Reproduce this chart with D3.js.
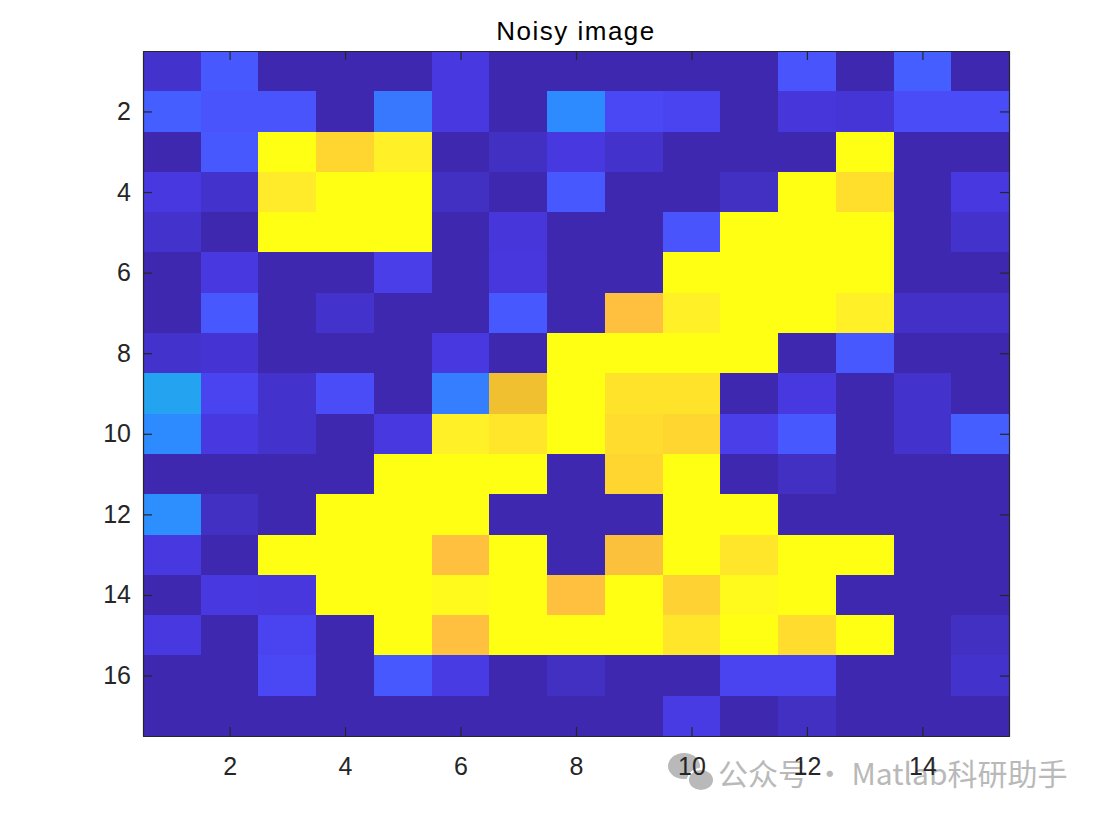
<!DOCTYPE html>
<html>
<head>
<meta charset="utf-8">
<script src="https://cdn.jsdelivr.net/npm/d3@7"></script>
<style>
  body { margin: 0; background: #fff; }
  text { font-family: "Liberation Sans", Arial, Helvetica, sans-serif; }
</style>
</head>
<body>
<script>
// image values, one array per row (row 1 at the top)
var row1  = [0.05, 0.15, 0, 0, 0, 0.08, 0, 0, 0, 0, 0, 0.14, 0, 0.16, 0];
var row2  = [0.16, 0.14, 0.14, 0, 0.2, 0.08, 0, 0.23, 0.11, 0.10, 0, 0.07, 0.065, 0.12, 0.12];
var row3  = [0, 0.15, 1, 0.88, 0.97, 0, 0.03, 0.08, 0.05, 0, 0, 0, 1, 0, 0];
var row4  = [0.08, 0.05, 0.95, 1, 1, 0.03, 0, 0.15, 0, 0, 0.03, 1, 0.91, 0, 0.08];
var row5  = [0.05, 0, 1, 1, 1, 0, 0.07, 0, 0, 0.14, 1, 1, 1, 0, 0.05];
var row6  = [0, 0.08, 0, 0, 0.09, 0, 0.075, 0, 0, 1, 1, 1, 1, 0, 0];
var row7  = [0, 0.15, 0, 0.05, 0, 0, 0.15, 0, 0.82, 0.97, 1, 1, 0.97, 0.04, 0.04];
var row8  = [0.05, 0.06, 0, 0, 0, 0.08, 0, 1, 1, 1, 1, 0, 0.15, 0, 0];
var row9  = [0.3, 0.10, 0.05, 0.12, 0, 0.21, 0.78, 1, 0.92, 0.92, 0, 0.08, 0, 0.05, 0];
var row10 = [0.23, 0.08, 0.05, 0, 0.08, 0.97, 0.93, 1, 0.90, 0.88, 0.09, 0.15, 0, 0.05, 0.16];
var row11 = [0, 0, 0, 0, 1, 1, 1, 0, 0.88, 1, 0, 0.03, 0, 0, 0];
var row12 = [0.24, 0.03, 0, 1, 1, 1, 0, 0, 0, 1, 1, 0, 0, 0, 0];
var row13 = [0.08, 0, 1, 1, 1, 0.82, 1, 0, 0.81, 1, 0.93, 1, 1, 0, 0];
var row14 = [0, 0.08, 0.075, 1, 1, 0.99, 1, 0.82, 1, 0.87, 0.99, 1, 0, 0, 0];
var row15 = [0.08, 0, 0.10, 0, 1, 0.82, 1, 1, 1, 0.93, 1, 0.90, 1, 0, 0.03];
var row16 = [0, 0, 0.11, 0, 0.15, 0.085, 0, 0.03, 0, 0, 0.10, 0.10, 0, 0, 0.05];
var row17 = [0, 0, 0, 0, 0, 0, 0, 0, 0, 0.085, 0, 0.03, 0, 0, 0];

var rows = [row1, row2, row3, row4, row5, row6, row7, row8, row9,
            row10, row11, row12, row13, row14, row15, row16, row17];

var xTicks = [2, 4, 6, 8, 10, 12, 14];
var yTicks = [2, 4, 6, 8, 10, 12, 14, 16];

var titleText = "Noisy image";
var watermark = "公众号 · Matlab科研助手";

// flatten into cells
var cells = [];
rows.forEach(function(r, i) {
  r.forEach(function(v, j) {
    cells.push({row: i + 1, col: j + 1, value: v});
  });
});

var fullwidth = 1104, fullheight = 817;
var axLeft = 143, axRight = 1009, axTop = 51, axBottom = 736;

var x = d3.scaleLinear().domain([0.5, 15.5]).range([axLeft, axRight]);
var y = d3.scaleLinear().domain([0.5, 17.5]).range([axTop, axBottom]);

// parula-like colour map
var color = d3.scaleLinear()
  .domain([0, 0.03, 0.05, 0.08, 0.10, 0.12, 0.15, 0.20, 0.23, 0.30, 0.50, 0.65, 0.78, 0.82, 0.88, 0.93, 0.97, 1])
  .range(["#3f28b0", "#4230c2", "#4432cc", "#4838e0", "#4a44f0", "#4a4cf8", "#4858ff", "#3878ff",
          "#2e8aff", "#24a3f0", "#2fbf9f", "#b8bd45", "#f0c030", "#ffc040", "#ffd530", "#ffe62a",
          "#fff028", "#ffff14"])
  .clamp(true);

var svg = d3.select("body").append("svg")
  .attr("width", fullwidth)
  .attr("height", fullheight);

// watermark sits under the tick labels
var wm = svg.append("g").attr("opacity", 0.8);
wm.append("ellipse").attr("cx", 684).attr("cy", 766).attr("rx", 16).attr("ry", 13).attr("fill", "#a8a8a8");
wm.append("ellipse").attr("cx", 701).attr("cy", 780).attr("rx", 13).attr("ry", 11).attr("fill", "#a8a8a8")
  .attr("stroke", "#fff").attr("stroke-width", 2);
wm.append("text")
  .attr("x", 718).attr("y", 785)
  .style("font-family", "'Noto Sans CJK SC', 'Noto Sans', sans-serif")
  .style("font-size", "30px")
  .attr("fill", "#a8a8a8")
  .text(watermark);

// image cells
svg.append("g")
  .attr("shape-rendering", "crispEdges")
  .selectAll("rect")
  .data(cells)
  .enter().append("rect")
    .attr("x", function(d) { return x(d.col - 0.5); })
    .attr("y", function(d) { return y(d.row - 0.5); })
    .attr("width", function(d) { return x(d.col + 0.5) - x(d.col - 0.5) + 0.6; })
    .attr("height", function(d) { return y(d.row + 0.5) - y(d.row - 0.5) + 0.6; })
    .attr("fill", function(d) { return color(d.value); });

function styleAxis(g) {
  g.selectAll("path").attr("stroke", "#262626").attr("stroke-width", 1.2);
  g.selectAll("line").attr("stroke", "#262626").attr("stroke-width", 1.2);
  g.selectAll("text").attr("fill", "#262626").style("font-size", "25px")
    .style("font-family", "'Liberation Sans', Arial, Helvetica, sans-serif");
}

// bottom axis
svg.append("g")
  .attr("transform", "translate(0," + axBottom + ")")
  .call(d3.axisBottom(x).tickValues(xTicks).tickSizeInner(-9).tickSizeOuter(0).tickPadding(21))
  .call(styleAxis);

// top axis (ticks only)
svg.append("g")
  .attr("transform", "translate(0," + axTop + ")")
  .call(d3.axisTop(x).tickValues(xTicks).tickSizeInner(-9).tickSizeOuter(0).tickFormat(""))
  .call(styleAxis);

// left axis
svg.append("g")
  .attr("transform", "translate(" + axLeft + ",0)")
  .call(d3.axisLeft(y).tickValues(yTicks).tickSizeInner(-9).tickSizeOuter(0).tickPadding(12))
  .call(styleAxis);

// right axis (ticks only)
svg.append("g")
  .attr("transform", "translate(" + axRight + ",0)")
  .call(d3.axisRight(y).tickValues(yTicks).tickSizeInner(-9).tickSizeOuter(0).tickFormat(""))
  .call(styleAxis);

// title
svg.append("text")
  .attr("x", (axLeft + axRight) / 2)
  .attr("y", 40)
  .style("text-anchor", "middle")
  .style("font-size", "26px")
  .style("letter-spacing", "1.5px")
  .attr("fill", "#000")
  .text(titleText);
</script>
</body>
</html>
